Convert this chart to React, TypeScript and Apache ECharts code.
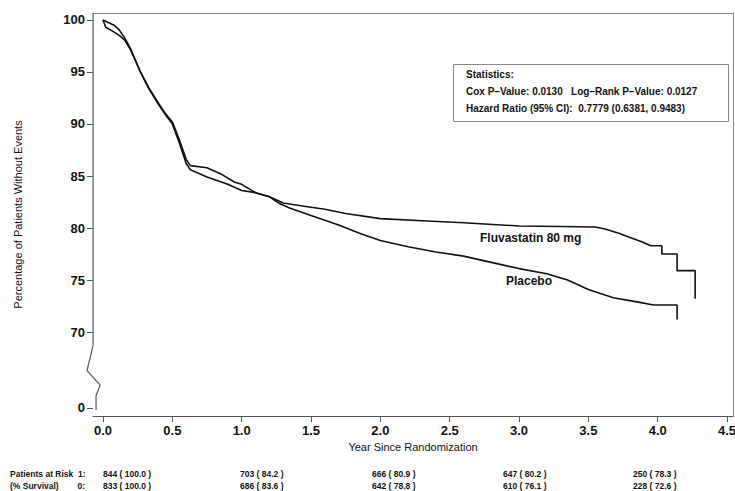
import { useEffect, useRef } from 'react';
import * as echarts from 'echarts';

// Kaplan-Meier estimates: [year, % without events]
const fluvastatin: [number, number][] = [
  [0, 100], [0.03, 99.8], [0.08, 99.5], [0.12, 99], [0.16, 98.2], [0.2, 97.2], [0.27, 95],
  [0.33, 93.5], [0.4, 92], [0.45, 91], [0.5, 90.2], [0.55, 88.5], [0.6, 86.6], [0.63, 86],
  [0.75, 85.8], [0.85, 85.2], [0.95, 84.4], [1.0, 84.2], [1.1, 83.4], [1.2, 83.0], [1.3, 82.4],
  [1.45, 82.1], [1.6, 81.8], [1.75, 81.4], [2.0, 80.9], [2.3, 80.7], [2.6, 80.5], [3.0, 80.2],
  [3.3, 80.15], [3.55, 80.1], [3.62, 79.9], [3.72, 79.5], [3.8, 79.1], [3.88, 78.7], [3.95, 78.3],
  [4.03, 78.3], [4.03, 77.5], [4.14, 77.5], [4.14, 75.9], [4.27, 75.9], [4.27, 73.2],
];
const placebo: [number, number][] = [
  [0, 100], [0.02, 99.3], [0.06, 99], [0.12, 98.5], [0.16, 98], [0.2, 97.1], [0.27, 95],
  [0.33, 93.4], [0.4, 91.9], [0.45, 90.9], [0.5, 90], [0.55, 88.2], [0.6, 86.2], [0.63, 85.6],
  [0.75, 84.9], [0.9, 84.2], [1.0, 83.6], [1.1, 83.4], [1.2, 83.0], [1.28, 82.3], [1.35, 81.9],
  [1.5, 81.2], [1.7, 80.3], [1.85, 79.5], [2.0, 78.8], [2.2, 78.2], [2.4, 77.7], [2.6, 77.3],
  [2.8, 76.7], [3.0, 76.1], [3.2, 75.6], [3.35, 75.0], [3.5, 74.1], [3.68, 73.3], [3.85, 72.9],
  [3.97, 72.6], [4.14, 72.6], [4.14, 71.2],
];

const yTicks = [62.7, 70, 75, 80, 85, 90, 95, 100]; // 62.7 is where the broken axis shows 0
const xTicks = [0, 0.5, 1, 1.5, 2, 2.5, 3, 3.5, 4, 4.5];
const xMin = -0.072;
const xMax = 4.543;
const yMin = 61.93;
const yMax = 100.67;
// zigzag of the broken left axis
const axisBreakLine: [number, number][] = [
  [xMin, 68.7], [-0.115, 66.3], [-0.02, 64.9], [-0.05, 63.9], [-0.05, 62.5],
];

const riskRow1 = ['844 ( 100.0 )', '703 ( 84.2 )', '666 ( 80.9 )', '647 ( 80.2 )', '250 ( 78.3 )'];
const riskRow0 = ['833 ( 100.0 )', '686 ( 83.6 )', '642 ( 78.8 )', '610 ( 76.1 )', '228 ( 72.6 )'];
const riskCols = [103, 240, 372, 503, 633];

const FONT = '"Liberation Sans Narrow", "Liberation Sans", Arial, sans-serif';

export default function App() {
  const ref = useRef<HTMLDivElement>(null);

  useEffect(() => {
    if (!ref.current) return;
    const chart = echarts.init(ref.current, null, { renderer: 'svg' });

    const texts: any[] = [];
    const rowStyle = { fontFamily: FONT, fontSize: 8.5, fill: '#111', fontWeight: 'bold' };
    texts.push({ type: 'text', left: 10, top: 469, style: { ...rowStyle, text: 'Patients at Risk  1:' } });
    texts.push({ type: 'text', left: 10, top: 481, style: { ...rowStyle, text: '(% Survival)        0:' } });
    riskCols.forEach((x, i) => {
      texts.push({ type: 'text', left: x, top: 469, style: { ...rowStyle, text: riskRow1[i] } });
      texts.push({ type: 'text', left: x, top: 481, style: { ...rowStyle, text: riskRow0[i] } });
    });
    const box: any[] = [
      {
        type: 'rect', left: 453, top: 64, shape: { width: 275, height: 57 },
        style: { fill: '#fff', stroke: '#888', lineWidth: 1 },
      },
      { type: 'text', left: 466, top: 69, style: { text: 'Statistics:', fontFamily: FONT, fontSize: 10, fontWeight: 'bold', fill: '#111' } },
      { type: 'text', left: 466, top: 86, style: { text: 'Cox P\u2013Value: 0.0130   Log\u2013Rank P\u2013Value: 0.0127', fontFamily: FONT, fontSize: 10, fontWeight: 'bold', fill: '#111' } },
      { type: 'text', left: 466, top: 103, style: { text: 'Hazard Ratio (95% CI):  0.7779 (0.6381, 0.9483)', fontFamily: FONT, fontSize: 10, fontWeight: 'bold', fill: '#111' } },
      { type: 'text', left: 480, top: 232, style: { text: 'Fluvastatin 80 mg', fontFamily: FONT, fontSize: 12, fontWeight: 'bold', fill: '#111' } },
      { type: 'text', left: 506, top: 275, style: { text: 'Placebo', fontFamily: FONT, fontSize: 12, fontWeight: 'bold', fill: '#111' } },
    ];

    chart.setOption({
      animation: false,
      grid: { left: 93, right: 2, top: 13, bottom: 75, outerBoundsMode: 'none', containLabel: false },
      xAxis: [
        {
          type: 'value', min: xMin, max: xMax,
          axisLine: { show: true, onZero: false, lineStyle: { color: '#555' } },
          axisTick: { show: true, length: 6, customValues: xTicks, lineStyle: { color: '#555' } },
          axisLabel: {
            customValues: xTicks,
            formatter: (v: number) => v.toFixed(1),
            fontFamily: FONT, fontWeight: 'bold', fontSize: 13, color: '#111', margin: 8,
          },
          splitLine: { show: false },
          name: 'Year Since Randomization', nameLocation: 'middle', nameGap: 24,
          nameTextStyle: { fontFamily: FONT, fontSize: 11, color: '#111' },
        },
        {
          type: 'value', min: xMin, max: xMax, position: 'top',
          axisLine: { show: true, onZero: false, lineStyle: { color: '#888' } },
          axisTick: { show: false }, axisLabel: { show: false }, splitLine: { show: false },
        },
      ],
      yAxis: [
        {
          type: 'value', min: yMin, max: yMax,
          axisLine: { show: false, onZero: false },
          axisTick: { show: true, length: 6, customValues: yTicks, lineStyle: { color: '#555' } },
          axisLabel: {
            customValues: yTicks,
            formatter: (v: number) => (v < 65 ? '0' : String(v)),
            fontFamily: FONT, fontWeight: 'bold', fontSize: 13, color: '#111', margin: 8,
          },
          splitLine: { show: false },
          name: 'Percentage of Patients Without Events', nameLocation: 'middle', nameGap: 70,
          nameTextStyle: { fontFamily: FONT, fontSize: 11, color: '#111' },
        },
        {
          type: 'value', min: yMin, max: yMax, position: 'right',
          axisLine: { show: true, onZero: false, lineStyle: { color: '#888' } },
          axisTick: { show: false }, axisLabel: { show: false }, splitLine: { show: false },
        },
      ],
      series: [
        {
          type: 'line', data: fluvastatin, showSymbol: false, silent: true,
          lineStyle: { color: '#111', width: 1.6 },
        },
        {
          type: 'line', data: placebo, showSymbol: false, silent: true,
          lineStyle: { color: '#111', width: 1.6 },
        },
      ],
      graphic: [...box, ...texts],
    });

    // left axis line and its zigzag, placed through the chart's own scales
    const pts = axisBreakLine.map((p) => chart.convertToPixel({ gridIndex: 0 }, p) as number[]);
    const topPx = chart.convertToPixel({ gridIndex: 0 }, [xMin, yMax]) as number[];
    const leftLine = {
      type: 'rect', silent: true, z: 100,
      shape: { x: pts[0][0] - 0.5, y: topPx[1], width: 1.2, height: pts[0][1] - topPx[1] },
      style: { fill: '#555' },
    };
    const segs = pts.slice(1).map((p, i) => ({
      type: 'line', silent: true, z: 100,
      shape: { x1: pts[i][0], y1: pts[i][1], x2: p[0], y2: p[1] },
      style: { stroke: '#555', lineWidth: 1.2 },
    }));
    chart.setOption({ graphic: [...box, ...texts, leftLine, ...segs] }, { replaceMerge: ['graphic'] });

    return () => chart.dispose();
  }, []);

  return <div ref={ref} style={{ width: 735, height: 491, position: 'absolute', left: 0, top: 0, background: '#fff' }} />;
}
